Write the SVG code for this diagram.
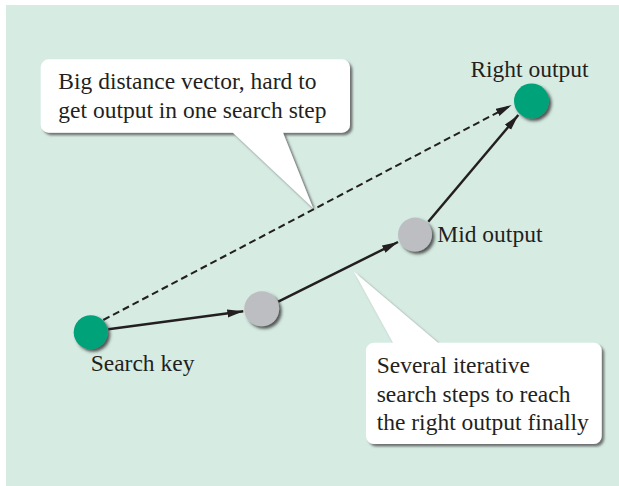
<svg xmlns="http://www.w3.org/2000/svg" width="619" height="486" viewBox="0 0 619 486">
<style>
.t{font-family:"Liberation Serif","Times New Roman",serif;font-size:23.5px;fill:#231f20}
.node{filter:url(#sh)}
.call{fill:#ffffff;filter:url(#csh)}
.conn{stroke:#231f20;stroke-width:2.5;fill:none}
.dash{stroke:#231f20;stroke-width:2;stroke-dasharray:7 4;fill:none}
</style>
<defs>
<filter id="sh" x="-50%" y="-50%" width="200%" height="200%">
<feDropShadow dx="2.5" dy="2.5" stdDeviation="1.5" flood-color="#333333" flood-opacity="0.8"/>
</filter>
<filter id="csh" x="-10%" y="-10%" width="120%" height="130%">
<feDropShadow dx="2.5" dy="2.5" stdDeviation="1.2" flood-color="#555555" flood-opacity="0.8"/>
</filter>
<marker id="ah" markerUnits="userSpaceOnUse" markerWidth="17" markerHeight="9" refX="16" refY="4" orient="auto">
<path d="M0,0 L16,4 L0,8 Z" fill="#231f20"/>
</marker>
</defs>
<rect x="6" y="5" width="613" height="481" fill="#d6ece3"/>
<g id="callout-big-distance">
<path class="call" d="M48.7,59.3 H342 A8,8 0 0 1 350,67.3 V124.7 A8,8 0 0 1 342,132.7 H283 L313,208 L233,132.7 H48.7 A8,8 0 0 1 40.7,124.7 V67.3 A8,8 0 0 1 48.7,59.3 Z"/>
<text class="t" x="58.3" y="89.3">Big distance vector, hard to</text>
<text class="t" x="58.3" y="117.5">get output in one search step</text>
</g>
<g id="callout-iterative">
<path class="call" d="M374,342.7 H393 L354,271.7 L438,342.7 H593.7 A8,8 0 0 1 601.7,350.7 V436 A8,8 0 0 1 593.7,444 H374 A8,8 0 0 1 366,436 V350.7 A8,8 0 0 1 374,342.7 Z"/>
<text class="t" x="376.7" y="373">Several iterative</text>
<text class="t" x="376.7" y="401.5">search steps to reach</text>
<text class="t" x="376.7" y="430">the right output finally</text>
</g>
<g id="connectors">
<line class="dash" x1="103.3" y1="320" x2="511.7" y2="105" marker-end="url(#ah)"/>
<line class="conn" x1="108.3" y1="329.3" x2="243.3" y2="311.3" marker-end="url(#ah)"/>
<line class="conn" x1="278.3" y1="301.7" x2="398" y2="242" marker-end="url(#ah)"/>
<line class="conn" x1="428.3" y1="221.7" x2="518.3" y2="115" marker-end="url(#ah)"/>
</g>
<g id="node-search-key">
<circle class="node" cx="90.7" cy="332.3" r="17" fill="#00a27a"/>
<text class="t" x="90.7" y="370.5">Search key</text>
</g>
<g id="node-step">
<circle class="node" cx="261.7" cy="308.8" r="17.5" fill="#bdbec2"/>
</g>
<g id="node-mid-output">
<circle class="node" cx="415" cy="234.6" r="17" fill="#bdbec2"/>
<text class="t" x="437.3" y="241.7">Mid output</text>
</g>
<g id="node-right-output">
<circle class="node" cx="531.5" cy="101" r="17.5" fill="#00a27a"/>
<text class="t" x="529.5" y="77.3" text-anchor="middle">Right output</text>
</g>
</svg>
